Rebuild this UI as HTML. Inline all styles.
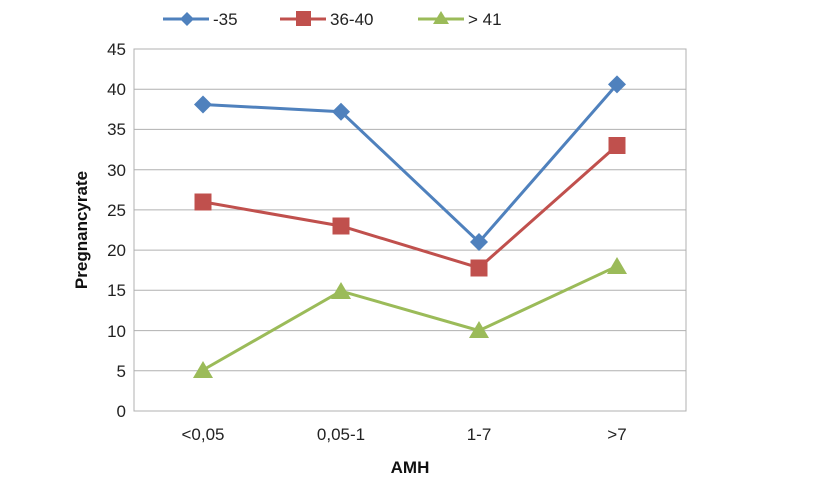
<!DOCTYPE html>
<html><head><meta charset="utf-8"><style>body{margin:0;background:#fff}svg{display:block}text{font-family:"Liberation Sans",sans-serif}</style></head><body>
<svg width="819" height="479" viewBox="0 0 819 479" xmlns="http://www.w3.org/2000/svg">
<rect x="134" y="49" width="552" height="362" fill="#fff" stroke="#b0b0b0"/>
<g stroke="#b0b0b0" stroke-width="1">
<line x1="134" x2="686" y1="49" y2="49"/><line x1="134" x2="686" y1="89.2" y2="89.2"/><line x1="134" x2="686" y1="129.4" y2="129.4"/><line x1="134" x2="686" y1="169.7" y2="169.7"/><line x1="134" x2="686" y1="209.9" y2="209.9"/><line x1="134" x2="686" y1="250.1" y2="250.1"/><line x1="134" x2="686" y1="290.3" y2="290.3"/><line x1="134" x2="686" y1="330.6" y2="330.6"/><line x1="134" x2="686" y1="370.8" y2="370.8"/><line x1="134" x2="686" y1="411" y2="411"/>
</g>
<g font-size="17" fill="#222" text-anchor="end">
<text x="126" y="55">45</text><text x="126" y="95">40</text><text x="126" y="135">35</text><text x="126" y="176">30</text><text x="126" y="216">25</text><text x="126" y="256">20</text><text x="126" y="296">15</text><text x="126" y="337">10</text><text x="126" y="377">5</text><text x="126" y="417">0</text>
</g>
<g font-size="17" fill="#222" text-anchor="middle">
<text x="203" y="440">&lt;0,05</text><text x="341" y="440">0,05-1</text><text x="479" y="440">1-7</text><text x="617" y="440">&gt;7</text>
</g>
<text x="410" y="473" font-size="17" font-weight="bold" text-anchor="middle" fill="#111">AMH</text>
<text transform="translate(87,230) rotate(-90)" font-size="17" font-weight="bold" text-anchor="middle" fill="#111">Pregnancyrate</text>
<polyline points="203,370 341,291.1 479,330.6 617,266.2" fill="none" stroke="#9bbb59" stroke-width="3"/>
<polyline points="203,201.9 341,226 479,267.8 617,145.5" fill="none" stroke="#c0504d" stroke-width="3"/>
<polyline points="203,104.5 341,111.7 479,242.1 617,84.4" fill="none" stroke="#4f81bd" stroke-width="3"/>
<g fill="#9bbb59"><polygon points="203,361 193,378 213,378"/><polygon points="341,282 331,299 351,299"/><polygon points="479,321 469,338 489,338"/><polygon points="617,257 607,274 627,274"/></g>
<g fill="#c0504d"><rect x="194.5" y="193.5" width="17" height="17"/><rect x="332.5" y="217.5" width="17" height="17"/><rect x="470.5" y="259.5" width="17" height="17"/><rect x="608.5" y="137" width="17" height="17"/></g>
<g fill="#4f81bd"><polygon points="203,95.5 212,104.5 203,113.5 194,104.5"/><polygon points="341,102.7 350,111.7 341,120.7 332,111.7"/><polygon points="479,233 488,242 479,251 470,242"/><polygon points="617,75.4 626,84.4 617,93.4 608,84.4"/></g>
<line x1="163" x2="209" y1="19" y2="19" stroke="#4f81bd" stroke-width="3"/><polygon points="187,12 194,19 187,26 180,19" fill="#4f81bd"/>
<text x="213" y="25" font-size="17" fill="#222">-35</text>
<line x1="280" x2="326" y1="19" y2="19" stroke="#c0504d" stroke-width="3"/><rect x="296" y="11" width="15" height="15" fill="#c0504d"/>
<text x="330" y="25" font-size="17" fill="#222">36-40</text>
<line x1="418" x2="464" y1="19" y2="19" stroke="#9bbb59" stroke-width="3"/><polygon points="441,11 433,24 449,24" fill="#9bbb59"/>
<text x="468" y="25" font-size="17" fill="#222">&gt; 41</text>
</svg>
</body></html>
